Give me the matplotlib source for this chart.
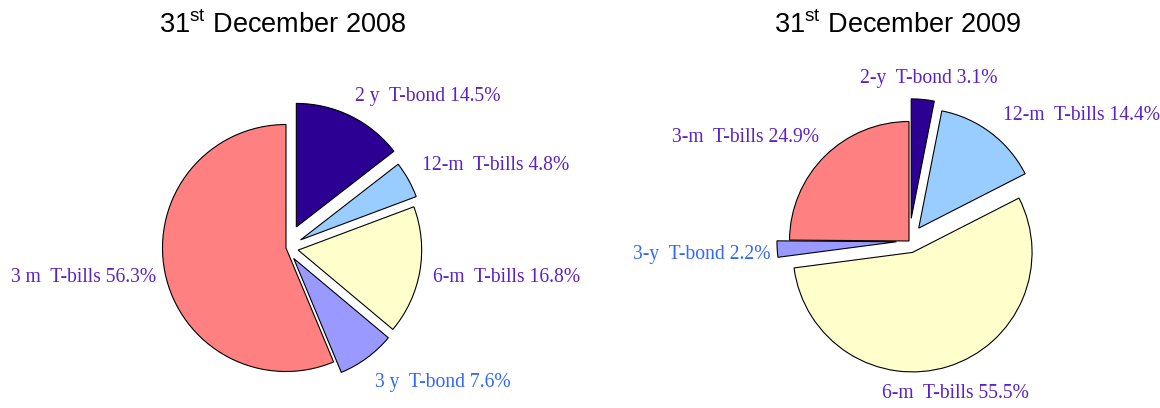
import matplotlib
matplotlib.use("Agg")
import matplotlib.pyplot as plt

# data (clockwise from 12 o'clock)
labels_2008 = ["2 y  T-bond", "12-m  T-bills", "6-m  T-bills", "3 y  T-bond", "3 m  T-bills"]
shares_2008 = [14.5, 4.8, 16.8, 7.6, 56.3]
labels_2009 = ["2-y  T-bond", "12-m  T-bills", "6-m  T-bills", "3-y  T-bond", "3-m  T-bills"]
shares_2009 = [3.1, 14.4, 55.5, 2.2, 24.9]
titles = [r"31$^{\mathrm{st}}$ December 2008", r"31$^{\mathrm{st}}$ December 2009"]

# style / layout
WEDGE_COLORS = ["#2B0092", "#99CCFF", "#FFFFCC", "#9999FF", "#FF8080"]
TEXT_COLORS = ["#5A22C8", "#5A22C8", "#5A22C8", "#3366FF", "#5A22C8"]
EXPLODE = [0.19, 0.135, 0.10, 0.105, 0.0]   # fraction of radius
W, H = 1160, 408

# pie centre (px from top-left), radius, title centre x, label anchors (left x, centre y)
PIES = [
    dict(center=(286, 248), radius=123.5, title_x=283,
         label_pos=[(355, 97), (422, 166), (433, 277), (375, 382), (11, 277)]),
    dict(center=(909, 241), radius=119.5, title_x=898,
         label_pos=[(860, 78), (1003, 115), (882, 393), (633, 254), (672, 138)]),
]

plt.rcParams["mathtext.fontset"] = "custom"
plt.rcParams["mathtext.rm"] = "Liberation Sans"

fig = plt.figure(figsize=(W / 100, H / 100), dpi=100)
ax = fig.add_axes([0, 0, 1, 1])

for shares, names, title, spec in zip([shares_2008, shares_2009], [labels_2008, labels_2009], titles, PIES):
    cx, cy = spec["center"]
    r = spec["radius"]
    ax.pie(shares, colors=WEDGE_COLORS, startangle=90, counterclock=False,
           explode=[e * r for e in EXPLODE], radius=r, center=(cx, H - cy),
           wedgeprops=dict(edgecolor="black", linewidth=0.8), frame=True)
    for name, val, (lx, ly), col in zip(names, shares, spec["label_pos"], TEXT_COLORS):
        ax.text(lx, H - ly, f"{name} {val:.1f}%", ha="left", va="center",
                fontsize=14.1, family="Liberation Serif", color=col)
    ax.text(spec["title_x"], H - 33, title, ha="center", va="baseline",
            fontsize=19.5, family="Liberation Sans", color="black")

ax.set_xlim(0, W)
ax.set_ylim(0, H)
ax.set_aspect("equal")
ax.axis("off")
fig.savefig("out.png", dpi=100)
